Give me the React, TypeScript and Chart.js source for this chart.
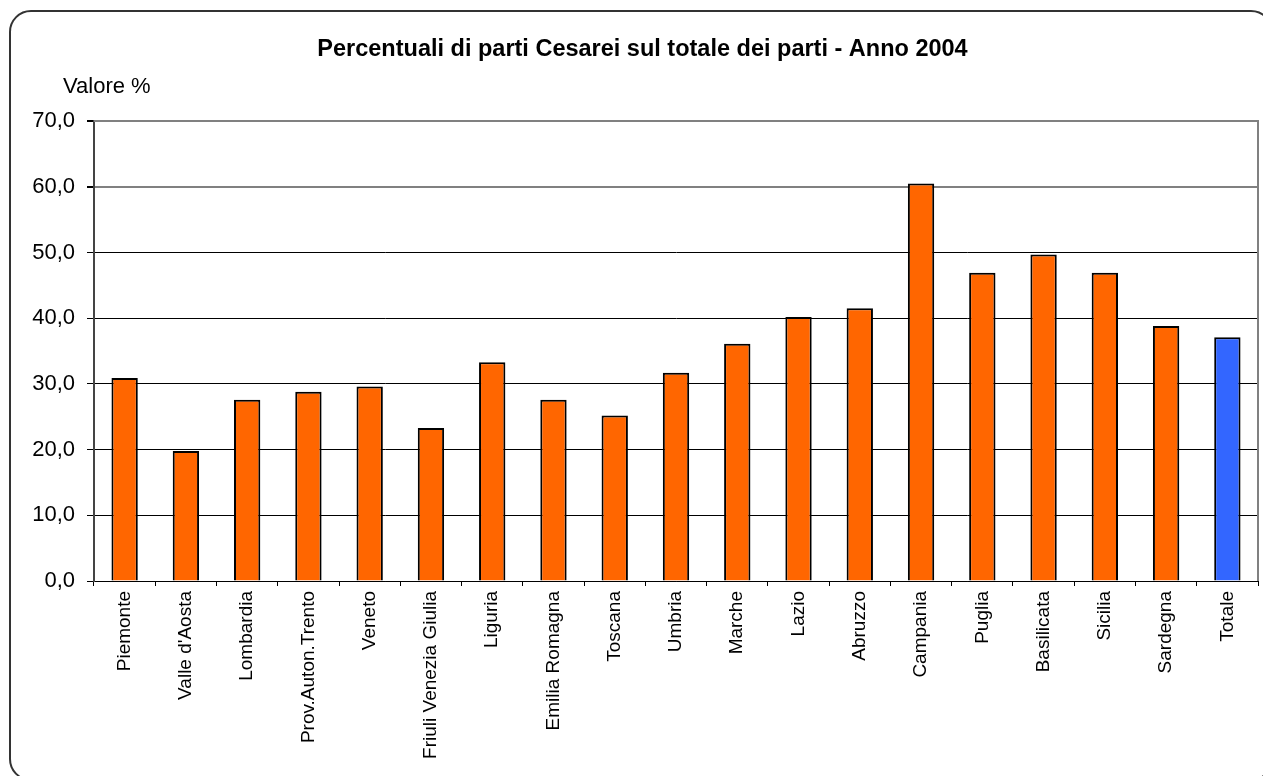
import React, { useEffect, useRef } from 'react';
import { Chart, registerables } from 'chart.js';

Chart.register(...registerables);

const chartTitle = 'Percentuali di parti Cesarei sul totale dei parti - Anno 2004';
const yAxisCaption = 'Valore %';

const regions = [
  'Piemonte',
  "Valle d'Aosta",
  'Lombardia',
  'Prov.Auton.Trento',
  'Veneto',
  'Friuli Venezia Giulia',
  'Liguria',
  'Emilia Romagna',
  'Toscana',
  'Umbria',
  'Marche',
  'Lazio',
  'Abruzzo',
  'Campania',
  'Puglia',
  'Basilicata',
  'Sicilia',
  'Sardegna',
  'Totale',
];

const cesareanPct = [
  30.9, 19.8, 27.6, 28.8, 29.6, 23.3, 33.3, 27.6, 25.2, 31.7, 36.1, 40.2, 41.5, 60.5, 46.9, 49.7, 46.9, 38.8, 37.1,
];

const yTickValues = [0, 10, 20, 30, 40, 50, 60, 70];
const yTickLabels = ['0,0', '10,0', '20,0', '30,0', '40,0', '50,0', '60,0', '70,0'];

const regionColor = '#FF6600';
const totalColor = '#3366FF';
const barColors = regions.map((r) => (r === 'Totale' ? totalColor : regionColor));

const FONT = "'Liberation Sans', Arial, sans-serif";

const decorPlugin = {
  id: 'decor',
  beforeDatasetsDraw(chart: any) {
    const { ctx, chartArea } = chart;
    ctx.save();
    ctx.strokeStyle = '#808080';
    ctx.lineWidth = 2;
    ctx.beginPath();
    ctx.moveTo(chartArea.left, chartArea.top);
    ctx.lineTo(chartArea.right, chartArea.top);
    ctx.lineTo(chartArea.right, chartArea.bottom);
    ctx.stroke();
    ctx.restore();
  },
  afterDraw(chart: any) {
    const { ctx, chartArea } = chart;
    ctx.save();
    ctx.fillStyle = '#000';
    ctx.font = `22px ${FONT}`;
    ctx.textAlign = 'left';
    ctx.textBaseline = 'alphabetic';
    ctx.fillText(yAxisCaption, chartArea.left - 31, chartArea.top - 28);
    ctx.restore();
  },
};

export default function App() {
  const canvasRef = useRef<HTMLCanvasElement | null>(null);

  useEffect(() => {
    if (!canvasRef.current) return;
    Chart.defaults.font.family = FONT;
    const chart = new Chart(canvasRef.current, {
      type: 'bar',
      data: {
        labels: regions,
        datasets: [
          {
            data: cesareanPct,
            backgroundColor: barColors,
            borderColor: '#000',
            borderWidth: 2,
            barPercentage: 0.43,
            categoryPercentage: 1,
          },
        ],
      },
      options: {
        responsive: false,
        animation: false,
        events: [],
        layout: { padding: { left: 27, right: 5, top: 0, bottom: 0 } },
        plugins: {
          legend: { display: false },
          tooltip: { enabled: false },
          title: {
            display: true,
            text: chartTitle,
            color: '#000',
            font: { size: 23.5, weight: 'bold', family: FONT },
            padding: { top: 35.5, bottom: 57.4 },
          },
        },
        scales: {
          x: {
            afterFit: (scale: any) => {
              scale.height = 195;
            },
            grid: {
              offset: true,
              drawOnChartArea: false,
              tickLength: 5,
              tickColor: '#000',
            },
            border: { color: '#000', width: 1 },
            ticks: {
              autoSkip: false,
              minRotation: 90,
              maxRotation: 90,
              padding: 5,
              color: '#000',
              font: { size: 19, family: FONT },
            },
          },
          y: {
            min: 0,
            max: 70,
            afterFit: (scale: any) => {
              scale.width = 67;
            },
            afterBuildTicks: (scale: any) => {
              scale.ticks = yTickValues.map((v) => ({ value: v }));
            },
            grid: {
              color: (ctx: any) => (ctx.tick && ctx.tick.value >= 60 ? '#808080' : '#000'),
              lineWidth: (ctx: any) => (ctx.tick && ctx.tick.value >= 60 ? 2 : 1),
              tickColor: '#000',
              tickLength: 7,
            },
            border: { color: '#444', width: 2 },
            ticks: {
              padding: 12,
              color: '#000',
              font: { size: 22, family: FONT },
              callback: (value: any) => {
                const i = yTickValues.indexOf(Number(value));
                return i >= 0 ? yTickLabels[i] : '';
              },
            },
          },
        },
      },
      plugins: [decorPlugin],
    });
    return () => chart.destroy();
  }, []);

  return (
    <div
      style={{
        position: 'absolute',
        left: 0,
        top: 0,
        width: 1263,
        height: 776,
        overflow: 'hidden',
        background: '#fff',
      }}
    >
      <canvas
        ref={canvasRef}
        width={1263}
        height={776}
        style={{ position: 'absolute', left: 0, top: 0, width: 1263, height: 776 }}
      />
      <div
        style={{
          position: 'absolute',
          left: 9,
          top: 10,
          width: 1264,
          height: 771,
          boxSizing: 'border-box',
          border: '2px solid #333',
          borderRadius: 22,
          pointerEvents: 'none',
        }}
      />
    </div>
  );
}
